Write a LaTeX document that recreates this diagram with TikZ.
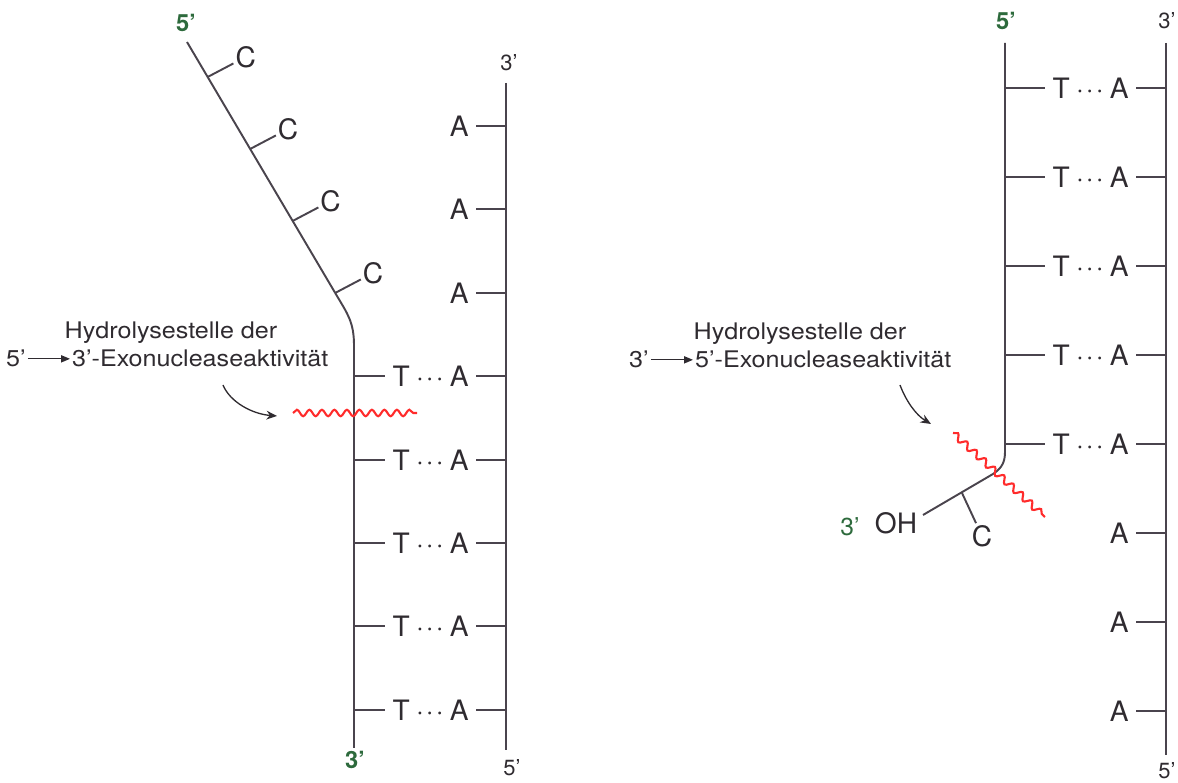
\documentclass[tikz,border=0pt]{standalone}
\usepackage{fontspec}
\setmainfont{TeX Gyre Heros}
\newfontfamily\notefont[FakeStretch=1.1]{TeX Gyre Heros}
\usetikzlibrary{arrows.meta,decorations.pathmorphing,calc}
\definecolor{strandgray}{HTML}{4A444D}
\definecolor{inkgray}{HTML}{2F2B30}
\definecolor{endgreen}{HTML}{2D6A3C}
\definecolor{cutred}{HTML}{FF2B2B}
\newcommand{\tapair}{T\hspace{3.5pt}·\hspace{1.2pt}·\hspace{1.2pt}·\hspace{3.5pt}A}

\begin{document}
\begin{tikzpicture}[x=0.02cm, y=-0.02cm,
  strand/.style={draw=strandgray, line width=1.1pt},
  basetxt/.style={font=\fontsize{16}{19}\selectfont, text=inkgray, inner xsep=4pt, inner ysep=1pt},
  endbold/.style={font=\bfseries\fontsize{13.5}{16}\selectfont, text=endgreen, inner sep=1pt},
  endplain/.style={font=\fontsize{12.5}{15}\selectfont, text=inkgray, inner sep=1pt},
  notetxt/.style={font=\notefont\fontsize{13}{15}\selectfont, text=inkgray, inner sep=1pt},
  cutsite/.style={draw=cutred, line width=1.2pt, decorate, decoration={snake, segment length=0.25cm, amplitude=0.065cm}},
  pointer/.style={draw=inkgray, line width=0.75pt, -{Stealth[length=6pt,width=5pt]}},
  dirarrow/.style={draw=inkgray, line width=0.75pt, -{Triangle[length=5pt,width=4pt]}}]

\useasboundingbox (0,0) rectangle (1178,783);

% Define strand positions
\def\lA{354}
\def\lB{506}
\def\rA{1005}
\def\rB{1166}

% LEFT: strand with the unpaired C end (5' end)
\draw[strand] (187,42) -- (337,296) .. controls (347,313) and (\lA,322) .. (\lA,345) -- (\lA,748);
\foreach \k in {0,...,3} {
    \pgfmathsetmacro\yc{77+72*\k}
    \pgfmathsetmacro\xc{187+(\yc-42)*0.59}
    \coordinate (lc\k) at (\xc,\yc);
    \node[basetxt, inner sep=1pt] (lcn\k) at (\xc+38,\yc-20) {C};
    \draw[strand] (lc\k) -- (lcn\k);
}

% LEFT: template strand and base pairs
\draw[strand] (\lB,83) -- (\lB,750);
\foreach \k in {0,...,7} {
    \pgfmathtruncatemacro\yr{round(126+83.4*\k)}
    \coordinate (la\k) at (\lA,\yr);
    \coordinate (lb\k) at (\lB,\yr);
    \ifnum\k<3
        \node[basetxt, anchor=east] (lp\k) at (\lB-30,\yr) {A};
    \else
        \node[basetxt, anchor=east] (lp\k) at (\lB-30,\yr) {\tapair};
        \draw[strand] (la\k) -- (lp\k);
    \fi
    \draw[strand] (lp\k) -- (lb\k);
}

% LEFT: end labels
\node[endbold] (l5end) at (186,23) {5’};
\node[endbold] (l3end) at (355,760) {3’};
\node[endplain] (lt3) at (509,63) {3’};
\node[endplain] (lt5) at (512,768) {5’};

% LEFT: cut site and note
\coordinate (lcut1) at (293,413);
\coordinate (lcut2) at (417,413);
\draw[cutsite] (lcut1) -- (lcut2);
\node[notetxt, anchor=base] (lnote) at (171,339) {Hydrolysestelle der};
\node[notetxt, anchor=base west] (lfrom) at (4,367) {5’};
\node[notetxt, anchor=base west] (lto) at (70,367) {3’-Exonucleaseaktivität};
\draw[dirarrow] (lfrom.east) -- (lfrom.east -| lto.west);
\coordinate (lptr) at (223,385);
\coordinate (lhit) at (277,416);
\draw[pointer] (lptr) .. controls (230,402) and (252,414) .. (lhit);

% RIGHT: strand with the mispaired C end (3' end)
\draw[strand] (\rA,43) -- (\rA,452) .. controls (\rA,462) and (1002,468) .. (993,474) -- (923,515);
\coordinate (rc) at (962,493);
\node[basetxt, inner sep=1pt] (rcn) at (982,536) {C};
\draw[strand] (rc) -- (rcn);

% RIGHT: template strand and base pairs
\draw[strand] (\rB,43) -- (\rB,755);
\foreach \k in {0,...,7} {
    \pgfmathtruncatemacro\yr{88+89*\k}
    \coordinate (ra\k) at (\rA,\yr);
    \coordinate (rb\k) at (\rB,\yr);
    \ifnum\k<5
        \node[basetxt, anchor=east] (rp\k) at (\rB-30,\yr) {\tapair};
        \draw[strand] (ra\k) -- (rp\k);
    \else
        \node[basetxt, anchor=east] (rp\k) at (\rB-30,\yr) {A};
    \fi
    \draw[strand] (rp\k) -- (rb\k);
}

% RIGHT: end labels
\node[endbold] (r5end) at (1006,21) {5’};
\node[endplain] (rt3) at (1167,21) {3’};
\node[endplain] (rt5) at (1167,771) {5’};
\node[endplain, text=endgreen, font=\fontsize{14}{16}\selectfont] (r3end) at (850,527) {3’};
\node[basetxt, inner sep=1pt] (roh) at (896,523) {OH};

% RIGHT: cut site and note
\coordinate (rcut1) at (953,433);
\coordinate (rcut2) at (1045,517);
\draw[cutsite] (rcut1) -- (rcut2);
\node[notetxt, anchor=base] (rnote) at (800,340) {Hydrolysestelle der};
\node[notetxt, anchor=base west] (rfrom) at (627,368) {3’};
\node[notetxt, anchor=base west] (rto) at (693,368) {5’-Exonucleaseaktivität};
\draw[dirarrow] (rfrom.east) -- (rfrom.east -| rto.west);
\coordinate (rptr) at (900,385);
\coordinate (rhit) at (931,424);
\draw[pointer] (rptr) .. controls (906,401) and (916,415) .. (rhit);

\end{tikzpicture}
\end{document}
